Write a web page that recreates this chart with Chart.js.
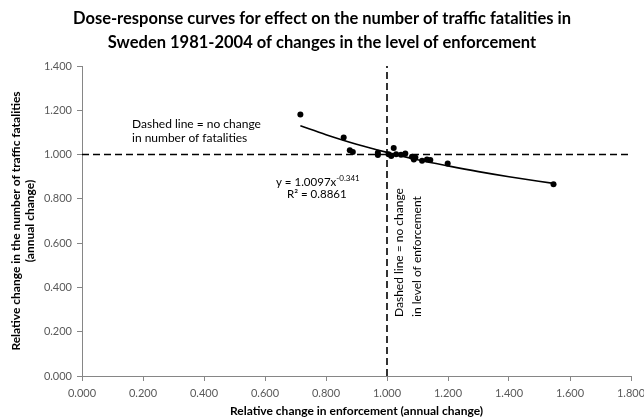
<!DOCTYPE html>
<html>
<head>
<meta charset="utf-8">
<script src="https://cdn.jsdelivr.net/npm/chart.js@4/dist/chart.umd.min.js"></script>
<style>
  html, body { margin: 0; padding: 0; background: #ffffff; }
  #wrap { width: 644px; height: 419px; position: relative; }
</style>
</head>
<body>
<div id="wrap"><canvas id="c" width="644" height="419"></canvas></div>
<script>
// ---- Data ----
const titleLines = [
  'Dose-response curves for effect on the number of traffic fatalities in',
  'Sweden 1981-2004 of changes in the level of enforcement'
];
const xAxisTitle = 'Relative change in enforcement (annual change)';
const yAxisTitle = ['Relative change in the number of traffic fatalities', '(annual change)'];

// observed annual changes (x = enforcement, y = fatalities)
const enforcementChange = [0.716, 0.858, 0.878, 0.888, 0.970, 0.970, 1.005, 1.014, 1.022, 1.030,
                           1.046, 1.060, 1.082, 1.088, 1.093, 1.115, 1.131, 1.142, 1.199, 1.546];
const fatalityChange    = [1.181, 1.077, 1.020, 1.012, 1.008, 0.998, 1.002, 0.993, 1.030, 1.002,
                           0.999, 1.005, 0.990, 0.978, 0.987, 0.972, 0.978, 0.975, 0.960, 0.866];

// trend curve, points
const trendX = [0.716, 0.80, 0.90, 1.00, 1.10, 1.20, 1.30, 1.40, 1.546];
const trendY = [1.130, 1.090, 1.047, 1.010, 0.977, 0.949, 0.923, 0.900, 0.870];

// reference ("no change") lines
const noChangeX = 1.0;
const noChangeY = 1.0;

// axis ranges and tick labels
const xRange = [0, 1.8];
const yRange = [0, 1.4];
const tickStep = 0.2;
const xTickLabels = ['0.000','0.200','0.400','0.600','0.800','1.000','1.200','1.400','1.600','1.800'];
const yTickLabels = ['0.000','0.200','0.400','0.600','0.800','1.000','1.200','1.400'];

const equationMain = 'y = 1.0097x';
const equationExp = '-0.341';
const rSquared = 'R\u00B2 = 0.8861';
const hNote = ['Dashed line = no change', 'in number of fatalities'];
const vNote = ['Dashed line = no change', 'in level of enforcement'];

// ---- Build datasets ----
const FONT = "Lato, 'Open Sans', sans-serif";
const points = enforcementChange.map((x, i) => ({ x: x, y: fatalityChange[i] }));
const trend = trendX.map((x, i) => ({ x: x, y: trendY[i] }));
const hLine = [{ x: xRange[0], y: noChangeY }, { x: xRange[1], y: noChangeY }];
const vLine = [{ x: noChangeX, y: yRange[0] }, { x: noChangeX, y: yRange[1] }];

const textPlugin = {
  id: 'texts',
  afterDraw(chart) {
    const ctx = chart.ctx;
    ctx.save();
    // Title
    ctx.fillStyle = '#000000';
    ctx.font = "bold 16.5px " + FONT;
    ctx.textAlign = 'center';
    ctx.textBaseline = 'middle';
    ctx.fillText(titleLines[0], 322, 18.5);
    ctx.fillText(titleLines[1], 322, 42.5);

    // horizontal note
    ctx.font = "12px " + FONT;
    ctx.textAlign = 'left';
    ctx.fillStyle = '#000000';
    ctx.fillText(hNote[0], 132, 124);
    ctx.fillText(hNote[1], 132, 138.5);

    // equation
    ctx.font = "11.5px " + FONT;
    ctx.fillText(equationMain, 276, 182);
    const w = ctx.measureText(equationMain).width;
    ctx.font = "8px " + FONT;
    ctx.fillText(equationExp, 276 + w, 178);
    ctx.font = "11.5px " + FONT;
    ctx.fillText(rSquared, 287, 194);

    // vertical note (rotated)
    ctx.font = "12px " + FONT;
    ctx.save();
    ctx.translate(399.5, 317);
    ctx.rotate(-Math.PI / 2);
    ctx.textAlign = 'left';
    ctx.fillText(vNote[0], 0, 0);
    ctx.fillText(vNote[1], 0, 18);
    ctx.restore();
    ctx.restore();
  }
};

new Chart(document.getElementById('c'), {
  type: 'scatter',
  data: {
    datasets: [
      {
        type: 'line', data: hLine, borderColor: '#000000', borderWidth: 1.6,
        borderDash: [7, 4], pointRadius: 0, fill: false, order: 3
      },
      {
        type: 'line', data: vLine, borderColor: '#000000', borderWidth: 1.6,
        borderDash: [7, 4], pointRadius: 0, fill: false, order: 3
      },
      {
        type: 'line', data: trend, borderColor: '#000000', borderWidth: 1.6,
        pointRadius: 0, fill: false, cubicInterpolationMode: 'monotone', order: 2
      },
      {
        type: 'scatter', data: points, backgroundColor: '#000000', borderColor: '#000000',
        pointRadius: 3, borderWidth: 0, order: 1
      }
    ]
  },
  options: {
    responsive: false,
    animation: false,
    devicePixelRatio: 1,
    layout: { padding: { top: 66, right: 13, bottom: 0, left: 0 } },
    plugins: { legend: { display: false }, tooltip: { enabled: false }, title: { display: false } },
    scales: {
      x: {
        type: 'linear', min: xRange[0], max: xRange[1],
        ticks: {
          stepSize: tickStep, color: '#595959', padding: 6,
          font: { family: FONT, size: 11 },
          callback: (v, i) => xTickLabels[i]
        },
        grid: { drawOnChartArea: false, drawTicks: true, tickLength: 5, color: '#868686' },
        border: { color: '#868686', width: 1 },
        title: {
          display: true, text: xAxisTitle, color: '#000000',
          font: { family: FONT, size: 12, weight: 'bold' }, padding: { top: 0, bottom: 1 }
        },
        afterFit(scale) { scale.height = 43; scale.paddingLeft = 0; scale.paddingRight = 0; }
      },
      y: {
        type: 'linear', min: yRange[0], max: yRange[1],
        ticks: {
          stepSize: tickStep, color: '#595959', padding: 5,
          font: { family: FONT, size: 11 },
          callback: (v, i) => yTickLabels[i]
        },
        grid: { drawOnChartArea: false, drawTicks: true, tickLength: 5, color: '#868686' },
        border: { color: '#868686', width: 1 },
        title: {
          display: true, text: yAxisTitle, color: '#000000',
          font: { family: FONT, size: 12, weight: 'bold' }, padding: { top: 9, bottom: 0 }
        },
        afterFit(scale) { scale.width = 82; scale.paddingTop = 0; scale.paddingBottom = 0; }
      }
    }
  },
  plugins: [textPlugin]
});
</script>
</body>
</html>
